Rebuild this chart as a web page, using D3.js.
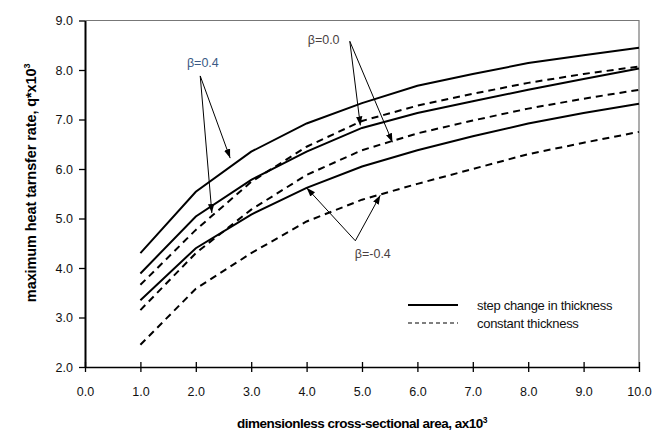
<!DOCTYPE html>
<html>
<head>
<meta charset="utf-8">
<script src="https://cdn.jsdelivr.net/npm/d3@7"></script>
<style>
  body { margin: 0; background: #fff; }
  text { font-family: "Liberation Sans", Arial, sans-serif; }
</style>
</head>
<body>
<div id="chart"></div>
<script>
// data (x = a*10^3, y = q*10^3)
const xValues = [1, 2, 3, 4, 5, 6, 7, 8, 9, 10];
const stepPos04 = [4.30, 5.54, 6.35, 6.92, 7.33, 7.68, 7.92, 8.14, 8.30, 8.45];
const constPos04 = [3.66, 4.77, 5.74, 6.45, 6.97, 7.28, 7.52, 7.74, 7.92, 8.07];
const stepZero = [3.89, 5.04, 5.78, 6.35, 6.83, 7.13, 7.37, 7.60, 7.82, 8.03];
const constZero = [3.15, 4.30, 5.18, 5.88, 6.38, 6.72, 6.98, 7.22, 7.42, 7.60];
const stepNeg04 = [3.35, 4.40, 5.08, 5.62, 6.05, 6.38, 6.66, 6.92, 7.13, 7.32];
const constNeg04 = [2.45, 3.58, 4.30, 4.94, 5.38, 5.70, 6.00, 6.30, 6.53, 6.75];

const xTicks = [0, 1, 2, 3, 4, 5, 6, 7, 8, 9, 10];
const yTicks = [2, 3, 4, 5, 6, 7, 8, 9];

// annotation labels with arrow anchor and tips (data units)
const labels = [
  { text: "\u03b2=0.4", at: [1.84, 8.06], from: [2.08, 7.88], tips: [[2.62, 6.22], [2.29, 5.11]], color: "#3b5a85" },
  { text: "\u03b2=0.0", at: [4.02, 8.52], from: [4.78, 8.58], tips: [[4.97, 6.88], [5.55, 6.54]], color: "#4a3f3f" },
  { text: "\u03b2=-0.4", at: [4.87, 4.2], from: [4.88, 4.55], tips: [[4.0, 5.62], [5.33, 5.47]], color: "#4a3f3f" }
];

const series = [
  { values: stepPos04, dashed: false },
  { values: constPos04, dashed: true },
  { values: stepZero, dashed: false },
  { values: constZero, dashed: true },
  { values: stepNeg04, dashed: false },
  { values: constNeg04, dashed: true }
];

const width = 670, height = 435;
const svg = d3.select("#chart").append("svg")
  .attr("width", width)
  .attr("height", height);

const x = d3.scaleLinear().domain([0, 10]).range([85, 639]);
const y = d3.scaleLinear().domain([2, 9]).range([367, 20.5]);

// frame top / right
svg.append("path")
  .attr("d", `M${x(0)},${y(9)}H${x(10)}V${y(2)}`)
  .attr("fill", "none")
  .attr("stroke", "#777")
  .attr("stroke-width", 1.2);

// x axis
const gx = svg.append("g")
  .attr("transform", `translate(0,${y(2)})`)
  .call(d3.axisBottom(x).tickValues(xTicks).tickFormat(d3.format(".1f")).tickSize(5).tickSizeOuter(0));
gx.select(".domain").attr("stroke", "#000").attr("stroke-width", 1.6);
gx.selectAll(".tick line").attr("y1", -5).attr("stroke", "#000").attr("stroke-width", 1.3);
gx.selectAll(".tick text")
  .attr("y", 20)
  .style("font-size", "12.5px")
  .attr("fill", "#111");

// y axis
const gy = svg.append("g")
  .attr("transform", `translate(${x(0)},0)`)
  .call(d3.axisLeft(y).tickValues(yTicks).tickFormat(d3.format(".1f")).tickSize(6).tickSizeOuter(0));
gy.select(".domain").attr("stroke", "#000").attr("stroke-width", 2);
gy.selectAll(".tick line").attr("stroke", "#000").attr("stroke-width", 1.3);
gy.selectAll(".tick text")
  .attr("x", -12)
  .style("font-size", "12.5px")
  .attr("fill", "#111");

// axis titles
const xt = svg.append("text")
  .attr("x", 362)
  .attr("y", 428)
  .attr("text-anchor", "middle")
  .style("font-size", "13.5px")
  .style("font-weight", "bold")
  .style("letter-spacing", "-0.5px");
xt.append("tspan").text("dimensionless cross-sectional area, ax10");
xt.append("tspan").attr("dy", -5).style("font-size", "8.5px").text("3");

const yt = svg.append("text")
  .attr("transform", `translate(36,${y(5.72)}) rotate(-90)`)
  .attr("text-anchor", "middle")
  .style("font-size", "14.5px")
  .style("font-weight", "bold")
  .style("letter-spacing", "-0.1px");
yt.append("tspan").text("maximum heat tarnsfer rate, q*x10");
yt.append("tspan").attr("dy", -6).style("font-size", "9px").text("3");

// curves
const line = d3.line()
  .x((d, i) => x(xValues[i]))
  .y(d => y(d))
  .curve(d3.curveLinear);

series.forEach(s => {
  svg.append("path")
    .datum(s.values)
    .attr("fill", "none")
    .attr("stroke", "#000")
    .attr("stroke-width", 2)
    .attr("stroke-dasharray", s.dashed ? "7,5" : null)
    .attr("d", line);
});

// arrowhead marker
svg.append("defs").append("marker")
  .attr("id", "arrow")
  .attr("viewBox", "0 0 10 10")
  .attr("refX", 10)
  .attr("refY", 5)
  .attr("markerWidth", 9)
  .attr("markerHeight", 9)
  .attr("markerUnits", "userSpaceOnUse")
  .attr("orient", "auto")
  .append("path")
  .attr("d", "M0,1.5L10,5L0,8.5Z")
  .attr("fill", "#000");

labels.forEach(l => {
  svg.append("text")
    .attr("x", x(l.at[0]))
    .attr("y", y(l.at[1]))
    .style("font-size", "12.5px")
    .attr("fill", l.color)
    .text(l.text);
  l.tips.forEach(t => {
    svg.append("line")
      .attr("x1", x(l.from[0]))
      .attr("y1", y(l.from[1]))
      .attr("x2", x(t[0]))
      .attr("y2", y(t[1]))
      .attr("stroke", "#000")
      .attr("stroke-width", 1)
      .attr("marker-end", "url(#arrow)");
  });
});

// legend
const legendItems = [
  { label: "step change in thickness", dashed: false },
  { label: "constant thickness", dashed: true }
];
const legend = svg.append("g").attr("transform", "translate(408,305)");
legendItems.forEach((d, i) => {
  legend.append("line")
    .attr("x1", 0).attr("x2", 50)
    .attr("y1", i * 18).attr("y2", i * 18)
    .attr("stroke", "#000")
    .attr("stroke-width", d.dashed ? 1.2 : 1.8)
    .attr("stroke-dasharray", d.dashed ? "4,3" : null);
  legend.append("text")
    .attr("x", 69)
    .attr("y", i * 18)
    .attr("dy", "0.35em")
    .style("font-size", "13px")
    .style("letter-spacing", "-0.3px")
    .attr("fill", "#111")
    .text(d.label);
});
</script>
</body>
</html>
